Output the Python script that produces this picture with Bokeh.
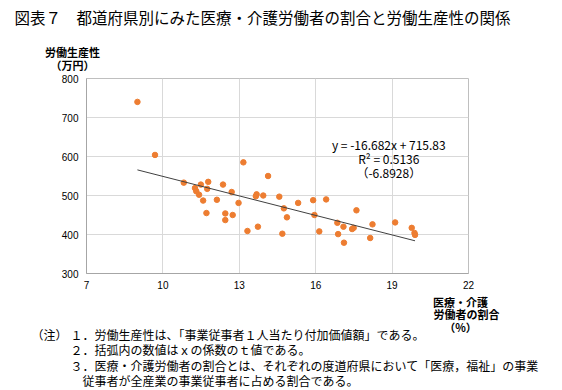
from bokeh.plotting import figure
from bokeh.models import Label, FixedTicker, Range1d
from bokeh.layouts import column
from bokeh.core.properties import value
from bokeh.embed import file_html
from bokeh.resources import INLINE
import numpy as np

# ---- data ----
share = [9.0, 9.69, 10.82, 11.26, 11.31, 11.42, 11.49, 11.78, 11.74, 11.58,
         11.71, 12.12, 12.36, 12.45, 12.45, 12.70, 12.74, 12.97, 13.16, 13.32,
         13.65, 13.68, 13.73, 13.94, 14.13, 14.57, 14.69, 14.75, 14.87, 15.31,
         15.90, 15.95, 16.14, 16.41, 16.85, 16.88, 17.09, 17.11, 17.43, 17.49,
         17.60, 18.14, 18.23, 19.12, 19.77, 19.88, 19.90]
productivity = [740, 604, 533, 519, 511, 502, 528, 535, 517, 487,
                455, 489, 528, 454, 437, 509, 450, 481, 585, 409,
                498, 503, 420, 500, 550, 497, 402, 467, 444, 481,
                488, 450, 408, 490, 430, 401, 420, 379, 414, 417,
                462, 391, 426, 431, 417, 404, 399]
slope = -16.682
intercept = 715.83
x_ticks = [7, 10, 13, 16, 19, 22]
y_ticks = [300, 400, 500, 600, 700, 800]

title_text = "図表７　都道府県別にみた医療・介護労働者の割合と労働生産性の関係"
y_label = ["労働生産性", "（万円）"]
x_label = ["医療・介護", "労働者の割合", "（%）"]
eq_text = ["y = -16.682x + 715.83", "R² = 0.5136", "（-6.8928）"]
note_head = "（注）"
notes = ["１．労働生産性は、「事業従事者１人当たり付加価値額」である。",
         "２．括弧内の数値はｘの係数のｔ値である。",
         "３．医療・介護労働者の割合とは、それぞれの度道府県において「医療，福祉」の事業",
         "従事者が全産業の事業従事者に占める割合である。"]

W = 562
JP = "Noto Sans CJK JP"


def text_fig(h):
    f = figure(width=W, height=h, output_backend="svg", toolbar_location=None,
               x_range=Range1d(0, W), y_range=Range1d(h, 0),
               x_axis_type=None, y_axis_type=None, min_border=0,
               frame_align=False)
    f.outline_line_color = None
    f.grid.visible = False
    f.background_fill_color = "white"
    f.border_fill_color = "white"
    return f


# ---- top: title and y-axis label ----
top = text_fig(73)
top.text(x=[14], y=[16.5], text=[title_text], text_font=value(JP),
         text_font_size="15.5px", text_baseline="middle", text_align="left",
         text_color="#000000")
top.text(x=[72, 72], y=[51, 64.5], text=y_label, text_font=value(JP),
         text_font_size="11px", text_font_style="bold", text_baseline="middle",
         text_align="center", text_color="#000000")

# ---- main chart ----
p = figure(width=W, height=220, output_backend="svg", toolbar_location=None,
           x_range=Range1d(7, 22), y_range=Range1d(300, 800),
           min_border_left=86, min_border_right=94, min_border_top=5,
           min_border_bottom=20, frame_align=False)
p.background_fill_color = "white"
p.border_fill_color = "white"
p.outline_line_color = "#BFBFBF"

for ax in (p.xaxis[0], p.yaxis[0]):
    ax.axis_line_color = "#A6A6A6"
    ax.major_tick_line_color = None
    ax.minor_tick_line_color = None
    ax.major_tick_out = 0
    ax.major_tick_in = 0
    ax.minor_tick_out = 0
    ax.minor_tick_in = 0
    ax.major_label_text_font = "Liberation Sans"
    ax.major_label_text_font_size = "10px"
    ax.major_label_text_color = "#000000"
p.xaxis[0].ticker = FixedTicker(ticks=x_ticks)
p.yaxis[0].ticker = FixedTicker(ticks=y_ticks)
p.xaxis[0].major_label_standoff = 7
p.yaxis[0].major_label_standoff = 8
p.xgrid[0].ticker = FixedTicker(ticks=x_ticks)
p.ygrid[0].ticker = FixedTicker(ticks=y_ticks)
p.xgrid.grid_line_color = "#D9D9D9"
p.ygrid.grid_line_color = "#D9D9D9"

p.scatter(share, productivity, size=5.5, fill_color="#ED7D31", line_color="#ED7D31")
lx = np.array([min(share), max(share)])
p.line(lx, slope * lx + intercept, line_color="#404040", line_width=1)

eq_x = 18.87
eq_y = [632, 596, 560]
for t, yy in zip(eq_text, eq_y):
    p.add_layout(Label(x=eq_x, y=yy, text=t, text_font=JP, text_font_size="12px",
                       text_align="center", text_baseline="middle",
                       text_color="#000000"))

# ---- bottom: x-axis label and notes ----
bot = text_fig(96)
bot.text(x=[460, 466, 460], y=[8, 20, 33], text=x_label, text_font=value(JP),
         text_font_size="11px", text_font_style="bold", text_baseline="middle",
         text_align="center", text_color="#000000")
bot.text(x=[31, 70, 70, 70, 82], y=[41, 41, 56, 72, 87], text=[note_head] + notes,
         text_font=value(JP), text_font_size="12px", text_baseline="middle",
         text_align="left", text_color="#000000")

layout = column(top, p, bot, spacing=0)
open("out.html", "w").write(file_html(layout, INLINE))
